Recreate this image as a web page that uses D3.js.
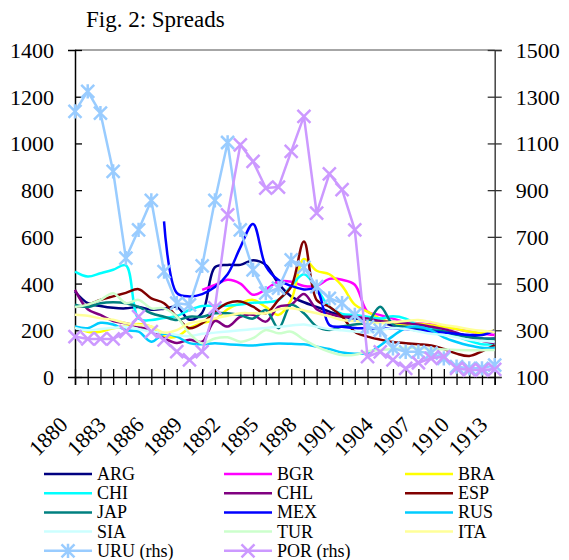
<!DOCTYPE html>
<html>
<head>
<meta charset="utf-8">
<script src="https://cdn.jsdelivr.net/npm/d3@7"></script>
<style>
body { margin: 0; background: #fff; }
text { font-family: "Liberation Serif", "Times New Roman", serif; fill: #000; }
</style>
</head>
<body>
<div id="chart"></div>
<script>
// categories
var years = [1880, 1881, 1882, 1883, 1884, 1885, 1886, 1887, 1888, 1889,
  1890, 1891, 1892, 1893, 1894, 1895, 1896, 1897, 1898, 1899,
  1900, 1901, 1902, 1903, 1904, 1905, 1906, 1907, 1908, 1909,
  1910, 1911, 1912, 1913];
var yearLabels = [1880, 1883, 1886, 1889, 1892, 1895, 1898, 1901, 1904, 1907, 1910, 1913];
var leftTicks = [0, 200, 400, 600, 800, 1000, 1200, 1400];
var rightTicks = [100, 300, 500, 700, 900, 1100, 1300, 1500];

// spreads, left axis
var arg = [366,316,304,296,294,300,288,292,300,245,275,470,480,480,500,480,400,345,320,300,280,260,250,240,235,220,215,210,205,195,185,175,165,165];
var bgr = [null,null,null,null,null,null,null,null,null,null,373,394,416,400,352,375,408,408,390,390,420,416,395,280,265,250,235,230,225,215,205,195,185,180];
var bra = [216,194,194,209,216,227,216,175,173,210,230,245,290,316,330,300,266,330,505,455,440,390,310,280,250,232,225,228,222,215,205,195,188,200];
var chi = [451,430,444,459,478,250,244,253,261,287,304,305,305,310,318,320,330,390,440,380,300,270,265,258,250,260,250,220,205,195,175,155,140,140];
var chl = [373,290,266,240,230,216,195,166,146,159,151,240,216,258,266,237,300,310,355,290,270,258,258,250,240,235,230,225,215,205,190,170,155,145];
var esp = [300,310,330,345,360,376,337,316,258,209,230,280,316,323,301,273,330,387,580,330,301,258,194,173,160,150,145,140,135,120,100,90,110,137];
var jap = [309,300,316,320,316,300,273,258,244,258,258,273,273,265,250,287,209,309,273,216,201,216,225,235,301,225,215,210,200,195,180,170,165,163];
var mex = [null,null,null,null,null,null,null,666,360,345,355,385,440,555,655,475,415,390,375,373,223,215,210,208,205,210,205,200,195,190,185,180,180,200];
var rus = [216,209,232,225,201,194,151,185,173,145,140,145,140,137,135,140,143,142,140,130,120,105,100,102,135,175,210,215,200,170,150,135,125,125];
var sia = [210,200,205,210,215,205,195,190,180,175,185,190,195,200,205,210,215,220,225,215,205,200,195,190,200,210,205,195,185,180,170,160,155,150];
var tur = [300,310,330,359,316,330,294,294,258,187,144,165,170,151,166,201,187,194,160,130,108,94,95,110,116,120,125,125,120,118,116,115,115,116];
var ita = [266,262,251,245,230,223,216,190,201,230,240,251,262,273,273,273,290,294,285,273,260,244,240,235,230,235,240,244,235,223,215,205,198,194];

// spreads, right axis
var uru = [1237,1323,1230,980,609,730,856,551,416,409,576,856,1104,730,559,459,481,601,570,487,437,416,366,316,301,223,208,208,202,180,144,137,137,151];
var por = [273,263,263,263,294,358,294,259,209,173,209,396,794,1094,1023,909,913,1066,1216,802,970,902,730,187,208,173,137,161,180,187,137,130,130,133];

var names = ["ARG", "BGR", "BRA", "CHI", "CHL", "ESP", "JAP", "MEX", "RUS", "SIA", "TUR", "ITA", "URU (rhs)", "POR (rhs)"];
var colors = ["#000080", "#FF00FF", "#FFFF00", "#00FFFF", "#800080", "#800000", "#008080", "#0000FF", "#00CCFF", "#CCFFFF", "#CCFFCC", "#FFFF99", "#99CCFF", "#CC99FF"];

var svgWidth = 569;
var svgHeight = 560;
var plot = { left: 75, right: 494.7, top: 50, bottom: 377 };

var svg = d3.select("#chart")
  .append("svg")
  .attr("width", svgWidth)
  .attr("height", svgHeight)
  .style("background", "#fff");

var x = d3.scalePoint().domain(years).range([plot.left, plot.right]);
var yL = d3.scaleLinear().domain([0, 1400]).range([plot.bottom, plot.top]);
var yR = d3.scaleLinear().domain([100, 1500]).range([plot.bottom, plot.top]);

// title
svg.append("text")
  .attr("x", 86)
  .attr("y", 27)
  .attr("font-size", 23)
  .text("Fig. 2: Spreads");

// top border
svg.append("line")
  .attr("x1", plot.left).attr("x2", plot.right)
  .attr("y1", plot.top).attr("y2", plot.top)
  .attr("stroke", "#888").attr("stroke-width", 1.5);

// left axis
var leftAxis = svg.append("g")
  .attr("transform", `translate(${plot.left},0)`)
  .call(d3.axisLeft(yL).tickValues(leftTicks).tickFormat(d3.format("d")).tickSize(7).tickPadding(14));
leftAxis.selectAll(".tick line").attr("x2", 7).attr("stroke-width", 1.3);
leftAxis.select(".domain").attr("stroke-width", 1.5);
leftAxis.selectAll("text")
  .attr("font-size", 22)
  .attr("font-family", "Liberation Serif, Times New Roman, serif")
  .attr("dy", "0.34em");

// right axis
var rightAxis = svg.append("g")
  .attr("transform", `translate(${plot.right},0)`)
  .call(d3.axisRight(yR).tickValues(rightTicks).tickFormat(d3.format("d")).tickSize(7).tickPadding(14));
rightAxis.selectAll(".tick line").attr("x1", -7).attr("stroke", "#333").attr("stroke-width", 1.3);
rightAxis.select(".domain").attr("stroke", "#444").attr("stroke-width", 1.5);
rightAxis.selectAll("text")
  .attr("font-size", 22)
  .attr("font-family", "Liberation Serif, Times New Roman, serif")
  .attr("dy", "0.34em");

// bottom axis
var bottomAxis = svg.append("g")
  .attr("transform", `translate(0,${plot.bottom})`)
  .call(d3.axisBottom(x).tickSize(8).tickFormat(""));
bottomAxis.selectAll(".tick line").attr("y1", -8).attr("stroke-width", 1.3);
bottomAxis.select(".domain").attr("stroke-width", 1.5);

// rotated year labels
svg.append("g").selectAll("text")
  .data(yearLabels)
  .enter()
  .append("text")
  .attr("transform", d => `translate(${x(d) - 6},426) rotate(-45)`)
  .attr("text-anchor", "end")
  .attr("font-size", 22)
  .text(d => d);

// series on left axis
var leftSeries = [arg, bgr, bra, chi, chl, esp, jap, mex, rus, sia, tur, ita];
var smoothLine = d3.line()
  .defined(d => d != null)
  .x((d, i) => x(years[i]))
  .y(d => yL(d))
  .curve(d3.curveCatmullRom.alpha(0.5));

svg.append("g").selectAll("path")
  .data(leftSeries)
  .enter()
  .append("path")
  .attr("fill", "none")
  .attr("stroke", (d, i) => colors[i])
  .attr("stroke-width", 2.5)
  .attr("d", d => smoothLine(d));

// series on right axis, straight with markers
var rightLine = d3.line()
  .x((d, i) => x(years[i]))
  .y(d => yR(d));

function star(g, size) {
  g.append("path").attr("d", `M${-size},${-size}L${size},${size}M${-size},${size}L${size},${-size}M0,${-size * 1.1}L0,${size * 1.1}`);
}
function cross(g, size) {
  g.append("path").attr("d", `M${-size},${-size}L${size},${size}M${-size},${size}L${size},${-size}`);
}

[[uru, colors[12], star], [por, colors[13], cross]].forEach(function(s) {
  var grp = svg.append("g");
  grp.append("path")
    .attr("fill", "none")
    .attr("stroke", s[1])
    .attr("stroke-width", 2.5)
    .attr("d", rightLine(s[0]));
  s[0].forEach(function(v, i) {
    var m = grp.append("g")
      .attr("transform", `translate(${x(years[i])},${yR(v)})`)
      .attr("stroke", s[1])
      .attr("stroke-width", 2.5)
      .attr("fill", "none");
    s[2](m, 6.5);
  });
});

// legend
var legendCols = [44, 224, 405];
var legendRows = [474, 493.2, 512.4, 531.6, 550.8];
var legend = svg.append("g");
names.forEach(function(name, i) {
  var cx = legendCols[i % 3];
  var cy = legendRows[Math.floor(i / 3)];
  var item = legend.append("g").attr("transform", `translate(${cx},${cy})`);
  item.append("line")
    .attr("x1", 0).attr("x2", 48)
    .attr("y1", 0).attr("y2", 0)
    .attr("stroke", colors[i])
    .attr("stroke-width", 2.5);
  if (i === 12) {
    var m = item.append("g").attr("transform", "translate(24,0)").attr("stroke", colors[i]).attr("stroke-width", 2.5);
    star(m, 6.5);
  } else if (i === 13) {
    var m2 = item.append("g").attr("transform", "translate(24,0)").attr("stroke", colors[i]).attr("stroke-width", 2.5);
    cross(m2, 6.5);
  }
  item.append("text")
    .attr("x", 53)
    .attr("y", 6)
    .attr("font-size", 18)
    .text(name);
});
</script>
</body>
</html>
